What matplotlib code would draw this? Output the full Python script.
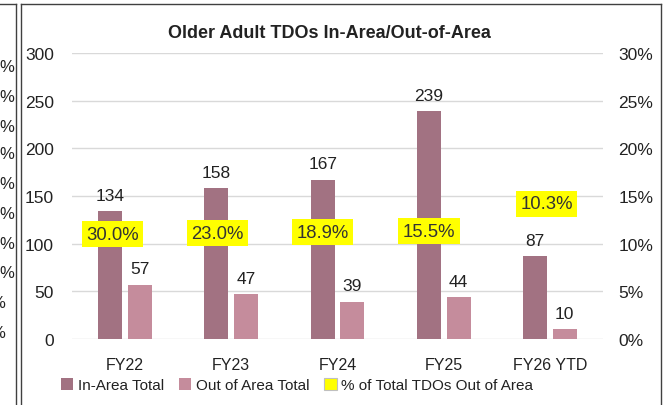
import matplotlib
matplotlib.use("Agg")
import matplotlib.pyplot as plt
from matplotlib.patches import Patch
from matplotlib.lines import Line2D

categories = ["FY22", "FY23", "FY24", "FY25", "FY26 YTD"]
in_area = [134, 158, 167, 239, 87]
out_area = [57, 47, 39, 44, 10]
pct_out = [30.0, 23.0, 18.9, 15.5, 10.3]
# layout: where the % labels sit (left-axis units, category offsets)
pct_label_y = [110, 111, 112, 113, 142]
pct_label_dx = [-0.12, -0.13, -0.14, -0.14, -0.03]

left_ticks = [0, 50, 100, 150, 200, 250, 300]
right_ticks = [0, 5, 10, 15, 20, 25, 30]

c_in = "#A27282"
c_out = "#C58C9C"
c_yel = "#FFFF00"

FONT = ["Liberation Sans", "DejaVu Sans"]
plt.rcParams["font.family"] = FONT

W, H = 666, 406
fig = plt.figure(figsize=(W / 100, H / 100), dpi=100)

def fx(px):
    return px / W

def fy(py):
    return 1 - py / H

# borders (main chart frame + neighbouring chart edge)
for xx in (16, 21):
    fig.add_artist(Line2D([fx(xx), fx(xx)], [fy(5), fy(406)], color="#404040", lw=1.0))
fig.add_artist(Line2D([fx(21), fx(661)], [fy(5), fy(5)], color="#404040", lw=1.0))
fig.add_artist(Line2D([fx(661), fx(661)], [fy(5), fy(406)], color="#404040", lw=1.0))
fig.add_artist(Line2D([fx(0), fx(16)], [fy(5), fy(5)], color="#404040", lw=1.0))

# visible remains of the neighbouring chart's tick labels
for yy in [67, 97, 127, 155, 185, 215, 245, 273]:
    fig.text(fx(14), fy(yy), "%", ha="right", va="center", fontsize=12, color="#222222")
for yy in (303, 333):
    fig.text(fx(5), fy(yy), "%", ha="right", va="center", fontsize=12, color="#222222")

ax = fig.add_axes([fx(72), fy(340), fx(603) - fx(72), fy(54) - fy(340)])
ax2 = ax.twinx()

x = list(range(len(categories)))
bw = 0.225
off = 0.14
ax.bar([i - off for i in x], in_area, width=bw, color=c_in, zorder=3)
ax.bar([i + off for i in x], out_area, width=bw, color=c_out, zorder=3)

ax.set_ylim(0, 300)
ax.set_xlim(-0.5, len(categories) - 0.5)
ax.set_yticks(left_ticks)
ax.yaxis.grid(True, color="#D9D9D9", lw=1.0, zorder=0)
ax.set_axisbelow(True)
for s in ax.spines.values():
    s.set_visible(False)
for s in ax2.spines.values():
    s.set_visible(False)
ax.tick_params(axis="y", length=0, pad=13, labelsize=12.5, labelcolor="#222222")
ax.set_xticks(x)
ax.set_xticklabels(categories, fontsize=11.5, color="#222222")
ax.tick_params(axis="x", length=0, pad=13)

ax2.set_ylim(0, 30)
ax2.set_yticks(right_ticks)
ax2.set_yticklabels([f"{t}%" for t in right_ticks])
ax2.tick_params(axis="y", length=0, pad=11, labelsize=12.5, labelcolor="#222222")

for i in x:
    ax.annotate(str(in_area[i]), (i - off, in_area[i]), xytext=(0, 6), textcoords="offset points",
                ha="center", va="bottom", fontsize=12.5, color="#222222", zorder=5)
    ax.annotate(str(out_area[i]), (i + off, out_area[i]), xytext=(0, 6), textcoords="offset points",
                ha="center", va="bottom", fontsize=12.5, color="#222222", zorder=5)
    ax.text(i + pct_label_dx[i], pct_label_y[i], f"{pct_out[i]:.1f}%", ha="center", va="center",
            fontsize=13.3, color="#333333", zorder=6,
            bbox=dict(boxstyle="square,pad=0.24", fc=c_yel, ec="none"))

fig.text(fx(329), fy(33), "Older Adult TDOs In-Area/Out-of-Area", ha="center", va="center",
         fontsize=13, fontweight="bold", color="#222222")

handles = [
    Patch(facecolor=c_in, edgecolor="none"),
    Patch(facecolor=c_out, edgecolor="none"),
    Patch(facecolor=c_yel, edgecolor="#BFBFBF", linewidth=0.8),
]
labels = ["In-Area Total", "Out of Area Total", "% of Total TDOs Out of Area"]
fig.legend(handles, labels, loc="center", bbox_to_anchor=(fx(297), fy(386)), ncol=3, frameon=False,
           prop={"size": 11}, handlelength=0.8, handleheight=0.8,
           handletextpad=0.3, columnspacing=1.0, labelcolor="#222222")

fig.savefig("out.png", dpi=100)
